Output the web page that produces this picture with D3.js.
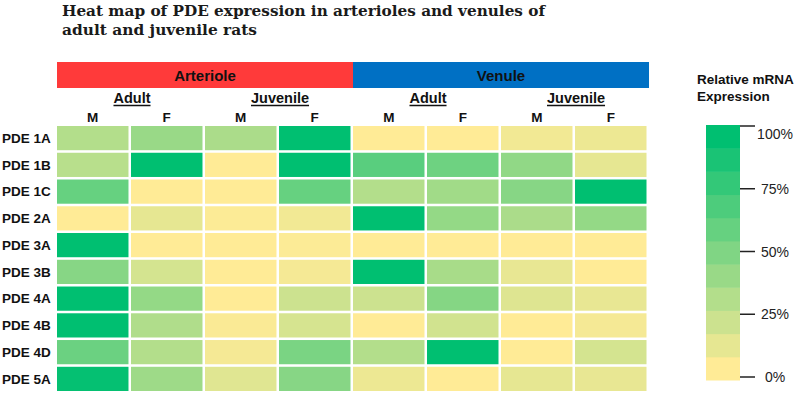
<!DOCTYPE html>
<html lang="en">
<head>
<meta charset="UTF-8">
<title>Heat map of PDE expression</title>
<script src="https://d3js.org/d3.v7.min.js"></script>
<style>
  body { margin: 0; background: #fff; }
  svg { display: block; font-family: "Liberation Sans", Arial, sans-serif; }
  .title { font-family: "DejaVu Serif", "Liberation Serif", serif; font-weight: bold; font-size: 15px; fill: #1a1a1a; }
  .bold { font-weight: bold; fill: #111; }
</style>
</head>
<body>
<div id="chart"></div>
<script>
// ---- data ----
const genes = ["PDE 1A", "PDE 1B", "PDE 1C", "PDE 2A", "PDE 3A", "PDE 3B", "PDE 4A", "PDE 4B", "PDE 4D", "PDE 5A"];
const vessels = ["Arteriole", "Venule"];
const ages = ["Adult", "Juvenile"];
const sexes = ["M", "F"];
// columns: Art-Adult-M, Art-Adult-F, Art-Juv-M, Art-Juv-F, Ven-Adult-M, Ven-Adult-F, Ven-Juv-M, Ven-Juv-F
const expression = [
  [0.30, 0.40, 0.33, 1.00, 0.00, 0.00, 0.05, 0.07], // 1A
  [0.28, 1.00, 0.00, 1.00, 0.65, 0.57, 0.43, 0.10], // 1B
  [0.60, 0.00, 0.00, 0.60, 0.30, 0.37, 0.47, 1.00], // 1C
  [0.00, 0.10, 0.01, 0.05, 1.00, 0.42, 0.33, 0.42], // 2A
  [1.00, 0.00, 0.00, 0.01, 0.00, 0.00, 0.00, 0.00], // 3A
  [0.47, 0.17, 0.00, 0.04, 1.00, 0.34, 0.09, 0.00], // 3B
  [1.00, 0.42, 0.00, 0.20, 0.20, 0.48, 0.13, 0.09], // 4A
  [1.00, 0.31, 0.02, 0.16, 0.00, 0.18, 0.00, 0.04], // 4B
  [0.58, 0.30, 0.04, 0.52, 0.30, 1.00, 0.00, 0.17], // 4D
  [0.98, 0.38, 0.12, 0.47, 0.07, 0.00, 0.10, 0.09]  // 5A
];
const legendTicks = [0, 0.25, 0.5, 0.75, 1];
const legendLabels = ["0%", "25%", "50%", "75%", "100%"];
const legendSteps = 11;

const W = 796, H = 393;
const svg = d3.select("#chart").append("svg").attr("width", W).attr("height", H);

// title
const title = svg.append("g");
title.append("text").attr("class", "title").attr("x", 62).attr("y", 16)
  .attr("textLength", 483).attr("lengthAdjust", "spacingAndGlyphs")
  .text("Heat map of PDE expression  in arterioles  and venules of");
title.append("text").attr("class", "title").attr("x", 62).attr("y", 35)
  .attr("textLength", 195).attr("lengthAdjust", "spacingAndGlyphs")
  .text("adult and juvenile rats");

const color = d3.scaleLinear().domain([0, 1]).range(["#ffeb96", "#00bf71"]).interpolate(d3.interpolateRgb);

const cols = d3.range(8);
const x = d3.scaleBand().domain(cols).range([57, 646.5]).paddingInner(0.034);
const y = d3.scaleBand().domain(genes).range([126, 391]).paddingInner(0.095);
const step = x.step();

// vessel header bars
const vesselColor = { Arteriole: "#ff3a3a", Venule: "#0070c4" };
vessels.forEach((v, i) => {
  const x0 = x(i * 4);
  svg.append("rect").attr("x", x0).attr("y", 62).attr("width", step * 4).attr("height", 26)
    .attr("fill", vesselColor[v]);
  svg.append("text").attr("class", "bold").attr("x", x0 + step * 2).attr("y", 81)
    .attr("text-anchor", "middle").attr("font-size", 15).text(v);
});

// age headers (underlined)
vessels.forEach((v, i) => {
  ages.forEach((a, j) => {
    const c = i * 4 + j * 2;
    const cx = x(c) + step + 1;
    const t = svg.append("text").attr("class", "bold").attr("x", cx).attr("y", 103)
      .attr("text-anchor", "middle").attr("font-size", 14.5).text(a);
    const w = t.node().getComputedTextLength();
    svg.append("line").attr("x1", cx - w / 2).attr("x2", cx + w / 2)
      .attr("y1", 105.5).attr("y2", 105.5).attr("stroke", "#111").attr("stroke-width", 1.3);
    sexes.forEach((s, k) => {
      svg.append("text").attr("class", "bold").attr("x", x(c + k) + x.bandwidth() / 2).attr("y", 121.5)
        .attr("text-anchor", "middle").attr("font-size", 13.5).text(s);
    });
  });
});

// row labels
svg.selectAll(".rowlabel").data(genes).enter().append("text")
  .attr("class", "bold rowlabel").attr("x", 2).attr("y", d => y(d) + y.bandwidth() / 2)
  .attr("dy", "0.36em").attr("font-size", 13.5).text(d => d);

// cells
const cells = [];
genes.forEach((g, r) => cols.forEach(c => cells.push({ g, c, v: expression[r][c] })));
svg.selectAll(".cell").data(cells).enter().append("rect")
  .attr("class", "cell")
  .attr("x", d => x(d.c)).attr("y", d => y(d.g))
  .attr("width", x.bandwidth()).attr("height", y.bandwidth())
  .attr("fill", d => color(d.v));

// legend
const lg = svg.append("g");
lg.append("text").attr("class", "bold").attr("x", 697).attr("y", 84).attr("font-size", 13.5).text("Relative mRNA");
lg.append("text").attr("class", "bold").attr("x", 697).attr("y", 101).attr("font-size", 13.5).text("Expression");

const barTop = 125, barBottom = 380, barX = 706, barW = 34;
const bandH = (barBottom - barTop) / legendSteps;
lg.selectAll(".lband").data(d3.range(legendSteps)).enter().append("rect")
  .attr("x", barX).attr("y", i => barBottom - (i + 1) * bandH)
  .attr("width", barW).attr("height", bandH + 0.5)
  .attr("fill", i => color(i / (legendSteps - 1)));

const ly = d3.scaleLinear().domain([0, 1]).range([377, 126]);
legendTicks.forEach((t, i) => {
  lg.append("line").attr("x1", barX + barW).attr("x2", barX + barW + 15)
    .attr("y1", ly(t)).attr("y2", ly(t)).attr("stroke", "#222").attr("stroke-width", 1.5);
  lg.append("text").attr("x", 775).attr("y", t === 1 ? ly(t) + 8 : ly(t)).attr("dy", "0.36em")
    .attr("text-anchor", "middle").attr("font-size", 14).attr("fill", "#222")
    .text(legendLabels[i]);
});
</script>
</body>
</html>
